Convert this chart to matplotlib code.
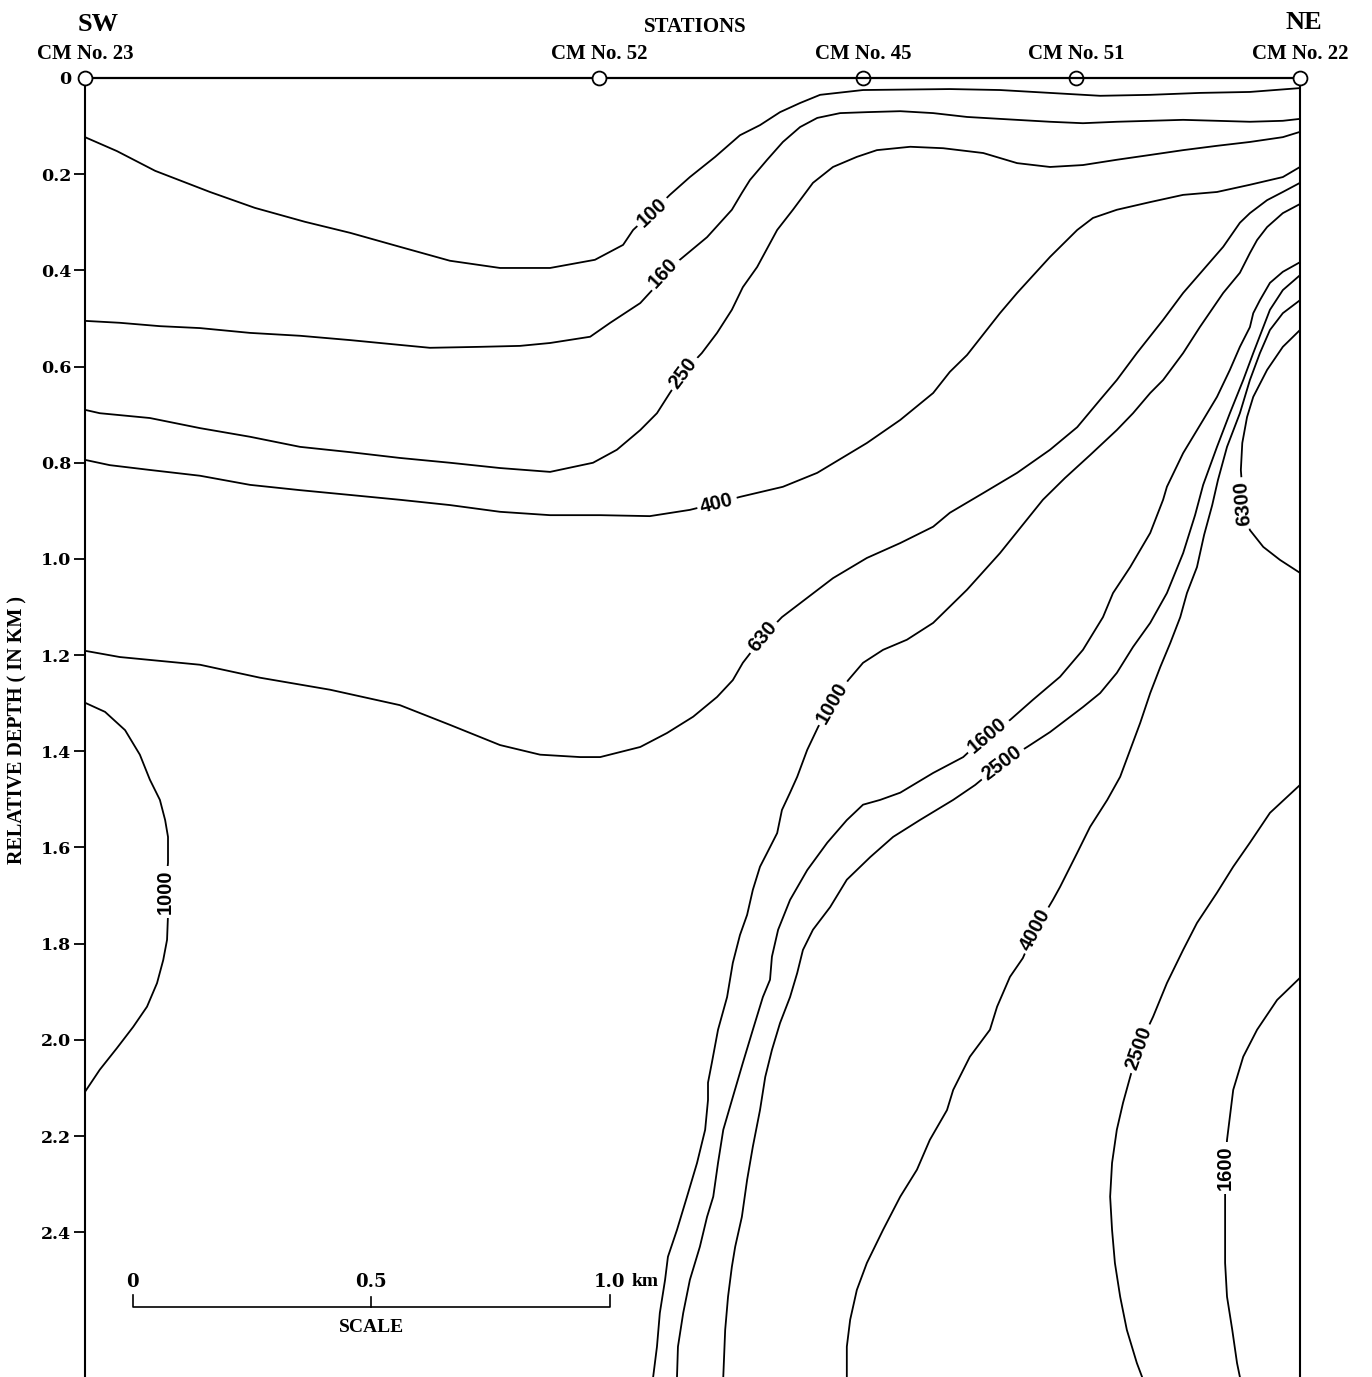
import matplotlib.pyplot as plt

# isolines: distance along section [km], relative depth [km]
x_100 = [0.000, 0.067, 0.147, 0.262, 0.356, 0.461, 0.556, 0.660, 0.765, 0.870, 0.975, 1.069, 1.128, 1.149,
         1.189, 1.226, 1.268, 1.321, 1.373, 1.415, 1.457, 1.499, 1.541, 1.631, 1.813, 1.918, 2.023, 2.128,
         2.233, 2.337, 2.442, 2.547]
d_100 = [0.123, 0.152, 0.193, 0.237, 0.270, 0.299, 0.322, 0.351, 0.380, 0.395, 0.395, 0.378, 0.347, 0.316,
         0.279, 0.243, 0.206, 0.164, 0.119, 0.098, 0.071, 0.052, 0.035, 0.025, 0.023, 0.025, 0.031, 0.037,
         0.035, 0.031, 0.029, 0.021]

x_160 = [0.000, 0.073, 0.157, 0.241, 0.346, 0.451, 0.556, 0.660, 0.723, 0.828, 0.912, 0.975, 1.059, 1.101,
         1.164, 1.189, 1.212, 1.247, 1.304, 1.356, 1.377, 1.394, 1.430, 1.463, 1.499, 1.535, 1.583, 1.639,
         1.709, 1.778, 1.849, 1.918, 2.023, 2.092, 2.163, 2.233, 2.302, 2.373, 2.442, 2.511, 2.547]
d_160 = [0.505, 0.509, 0.516, 0.520, 0.530, 0.536, 0.545, 0.555, 0.561, 0.559, 0.557, 0.551, 0.538, 0.509,
         0.468, 0.441, 0.405, 0.378, 0.331, 0.274, 0.239, 0.212, 0.170, 0.133, 0.102, 0.083, 0.073, 0.071,
         0.069, 0.073, 0.081, 0.085, 0.091, 0.094, 0.091, 0.089, 0.087, 0.089, 0.091, 0.089, 0.085]

x_250 = [0.000, 0.031, 0.136, 0.241, 0.346, 0.451, 0.556, 0.660, 0.765, 0.870, 0.975, 1.065, 1.115, 1.164,
         1.199, 1.226, 1.254, 1.293, 1.325, 1.356, 1.379, 1.409, 1.451, 1.484, 1.526, 1.568, 1.618, 1.660,
         1.730, 1.799, 1.883, 1.954, 2.023, 2.092, 2.163, 2.233, 2.302, 2.373, 2.442, 2.511, 2.547]
d_250 = [0.690, 0.697, 0.707, 0.728, 0.746, 0.767, 0.778, 0.790, 0.800, 0.811, 0.819, 0.800, 0.773, 0.732,
         0.697, 0.655, 0.613, 0.572, 0.530, 0.482, 0.435, 0.393, 0.316, 0.274, 0.218, 0.185, 0.164, 0.150,
         0.143, 0.146, 0.156, 0.177, 0.185, 0.181, 0.170, 0.160, 0.150, 0.141, 0.133, 0.123, 0.112]

x_400 = [0.000, 0.052, 0.136, 0.241, 0.346, 0.451, 0.556, 0.660, 0.765, 0.870, 0.975, 1.080, 1.184, 1.268,
         1.325, 1.373, 1.463, 1.535, 1.639, 1.709, 1.778, 1.813, 1.849, 1.918, 1.954, 2.023, 2.080, 2.113,
         2.163, 2.233, 2.302, 2.373, 2.442, 2.511, 2.547]
d_400 = [0.794, 0.805, 0.815, 0.827, 0.846, 0.857, 0.867, 0.877, 0.888, 0.902, 0.909, 0.909, 0.911, 0.898,
         0.884, 0.871, 0.850, 0.821, 0.759, 0.711, 0.655, 0.611, 0.576, 0.489, 0.447, 0.372, 0.316, 0.291,
         0.274, 0.258, 0.243, 0.237, 0.222, 0.206, 0.185]

x_630 = [0.000, 0.073, 0.241, 0.367, 0.514, 0.660, 0.765, 0.870, 0.954, 1.038, 1.080, 1.164, 1.220, 1.275,
         1.325, 1.358, 1.379, 1.421, 1.461, 1.568, 1.639, 1.709, 1.778, 1.813, 1.883, 1.954, 2.023, 2.080,
         2.128, 2.163, 2.205, 2.260, 2.302, 2.344, 2.386, 2.421, 2.442, 2.478, 2.511, 2.547]
d_630 = [1.191, 1.204, 1.220, 1.247, 1.272, 1.304, 1.345, 1.387, 1.407, 1.412, 1.412, 1.391, 1.362, 1.328,
         1.287, 1.252, 1.216, 1.162, 1.121, 1.040, 0.998, 0.967, 0.933, 0.904, 0.863, 0.821, 0.773, 0.726,
         0.669, 0.628, 0.572, 0.503, 0.447, 0.399, 0.351, 0.301, 0.281, 0.254, 0.237, 0.218]

x_1000 = [1.191, 1.199, 1.205, 1.216, 1.222, 1.241, 1.262, 1.283, 1.300, 1.306, 1.306, 1.314, 1.327, 1.346,
          1.358, 1.373, 1.388, 1.400, 1.415, 1.430, 1.451, 1.461, 1.478, 1.493, 1.514, 1.537, 1.566, 1.600,
          1.631, 1.673, 1.723, 1.778, 1.849, 1.918, 2.008, 2.054, 2.107, 2.163, 2.197, 2.233, 2.260, 2.302,
          2.337, 2.386, 2.421, 2.442, 2.457, 2.478, 2.511, 2.547]
d_1000 = [2.701, 2.638, 2.568, 2.499, 2.451, 2.395, 2.326, 2.256, 2.187, 2.125, 2.089, 2.048, 1.979, 1.911,
          1.840, 1.782, 1.740, 1.688, 1.640, 1.611, 1.570, 1.522, 1.486, 1.453, 1.397, 1.349, 1.299, 1.252,
          1.216, 1.189, 1.168, 1.133, 1.064, 0.988, 0.877, 0.832, 0.784, 0.732, 0.697, 0.655, 0.628, 0.572,
          0.518, 0.447, 0.405, 0.364, 0.337, 0.310, 0.281, 0.262]

x_1600 = [1.241, 1.243, 1.254, 1.268, 1.289, 1.304, 1.317, 1.327, 1.338, 1.358, 1.379, 1.400, 1.421, 1.436,
          1.440, 1.453, 1.478, 1.514, 1.556, 1.597, 1.631, 1.667, 1.709, 1.778, 1.841, 1.891, 1.939, 1.987,
          2.044, 2.092, 2.134, 2.155, 2.191, 2.233, 2.260, 2.268, 2.302, 2.344, 2.373, 2.400, 2.421, 2.442,
          2.449, 2.463, 2.484, 2.511, 2.547]
d_1600 = [2.701, 2.638, 2.568, 2.499, 2.430, 2.368, 2.326, 2.256, 2.187, 2.119, 2.048, 1.979, 1.911, 1.875,
          1.827, 1.771, 1.709, 1.647, 1.590, 1.543, 1.511, 1.501, 1.486, 1.445, 1.412, 1.366, 1.335, 1.293,
          1.245, 1.189, 1.121, 1.071, 1.017, 0.946, 0.877, 0.850, 0.780, 0.711, 0.663, 0.607, 0.559, 0.518,
          0.489, 0.462, 0.426, 0.403, 0.383]

x_2500 = [1.338, 1.342, 1.348, 1.356, 1.363, 1.377, 1.388, 1.400, 1.415, 1.426, 1.440, 1.457, 1.478, 1.493,
          1.505, 1.526, 1.562, 1.597, 1.646, 1.694, 1.750, 1.820, 1.866, 1.922, 1.975, 2.023, 2.092, 2.128,
          2.163, 2.197, 2.233, 2.268, 2.302, 2.327, 2.344, 2.373, 2.400, 2.428, 2.449, 2.470, 2.484, 2.511,
          2.547]
d_2500 = [2.701, 2.603, 2.534, 2.472, 2.430, 2.368, 2.291, 2.222, 2.146, 2.077, 2.021, 1.965, 1.911, 1.861,
          1.813, 1.771, 1.724, 1.667, 1.620, 1.578, 1.543, 1.501, 1.470, 1.424, 1.391, 1.360, 1.308, 1.279,
          1.237, 1.183, 1.133, 1.071, 0.988, 0.909, 0.846, 0.767, 0.697, 0.628, 0.572, 0.518, 0.482, 0.441,
          0.410]

x_4000 = [1.597, 1.597, 1.604, 1.618, 1.639, 1.673, 1.709, 1.744, 1.771, 1.807, 1.820, 1.855, 1.897, 1.912,
          1.939, 1.966, 1.992, 2.029, 2.044, 2.080, 2.107, 2.143, 2.170, 2.191, 2.212, 2.233, 2.254, 2.275,
          2.296, 2.310, 2.331, 2.346, 2.363, 2.375, 2.394, 2.421, 2.442, 2.463, 2.484, 2.511, 2.547]
d_4000 = [2.701, 2.638, 2.582, 2.520, 2.464, 2.395, 2.326, 2.270, 2.208, 2.146, 2.104, 2.035, 1.979, 1.931,
          1.869, 1.830, 1.771, 1.709, 1.682, 1.611, 1.557, 1.501, 1.453, 1.397, 1.341, 1.279, 1.225, 1.175,
          1.121, 1.071, 1.017, 0.950, 0.888, 0.836, 0.767, 0.697, 0.628, 0.572, 0.524, 0.489, 0.462]

x_6300 = [2.547, 2.511, 2.478, 2.449, 2.436, 2.426, 2.423, 2.428, 2.442, 2.470, 2.505, 2.547]
d_6300 = [0.524, 0.559, 0.607, 0.663, 0.705, 0.759, 0.815, 0.884, 0.940, 0.975, 1.002, 1.029]

# closed 1000 cell at SW station
x_1000_sw = [0.000, 0.042, 0.084, 0.115, 0.136, 0.157, 0.168, 0.174, 0.174, 0.168, 0.174, 0.172, 0.164,
             0.151, 0.130, 0.101, 0.067, 0.031, 0.000]
d_1000_sw = [1.299, 1.318, 1.356, 1.407, 1.459, 1.501, 1.543, 1.578, 1.632, 1.692, 1.740, 1.792, 1.834,
             1.882, 1.931, 1.973, 2.017, 2.062, 2.108]

# lower cells at NE station
x_2500_ne = [2.547, 2.484, 2.442, 2.407, 2.373, 2.331, 2.302, 2.268, 2.239, 2.208, 2.191, 2.176, 2.163,
             2.153, 2.149, 2.153, 2.159, 2.170, 2.184, 2.205, 2.216]
d_2500_ne = [1.470, 1.528, 1.590, 1.640, 1.694, 1.757, 1.813, 1.882, 1.952, 2.017, 2.077, 2.131, 2.187,
             2.256, 2.326, 2.395, 2.464, 2.534, 2.603, 2.672, 2.701]

x_1600_ne = [2.547, 2.499, 2.457, 2.428, 2.407, 2.400, 2.394, 2.390, 2.390, 2.390, 2.390, 2.394, 2.405,
             2.415, 2.421]
d_1600_ne = [1.871, 1.917, 1.979, 2.035, 2.104, 2.160, 2.208, 2.266, 2.318, 2.395, 2.464, 2.534, 2.603,
             2.672, 2.701]

isolines = [(x_100, d_100), (x_160, d_160), (x_250, d_250), (x_400, d_400), (x_630, d_630),
            (x_1000, d_1000), (x_1600, d_1600), (x_2500, d_2500), (x_4000, d_4000), (x_6300, d_6300),
            (x_1000_sw, d_1000_sw), (x_2500_ne, d_2500_ne), (x_1600_ne, d_1600_ne)]

# label text, position (km, km), rotation on screen
iso_labels = [("100", 1.189, 0.279, 43), ("160", 1.212, 0.405, 47), ("250", 1.254, 0.613, 53),
              ("400", 1.325, 0.884, 14), ("630", 1.421, 1.162, 50), ("1000", 1.566, 1.299, 60),
              ("1600", 1.891, 1.366, 40), ("2500", 1.922, 1.424, 37), ("4000", 1.992, 1.771, 62),
              ("6300", 2.428, 0.884, 95), ("1000", 0.168, 1.692, 90), ("2500", 2.208, 2.017, 70),
              ("1600", 2.390, 2.266, 90)]

stations = ["CM No. 23", "CM No. 52", "CM No. 45", "CM No. 51", "CM No. 22"]
station_x = [0.0, 1.078, 1.631, 2.078, 2.547]
station_open = [False, False, True, True, False]

depth_ticks = [0, 0.2, 0.4, 0.6, 0.8, 1.0, 1.2, 1.4, 1.6, 1.8, 2.0, 2.2, 2.4]
depth_labels = ["0", "0.2", "0.4", "0.6", "0.8", "1.0", "1.2", "1.4", "1.6", "1.8", "2.0", "2.2", "2.4"]

serif = dict(family="Liberation Serif", weight="bold")
wide = dict(family="DejaVu Serif", weight="bold")

fig = plt.figure(figsize=(13.72, 13.77), dpi=100)
ax = fig.add_axes([85 / 1372, 0, 1215 / 1372, 1299 / 1377])
ax.set_xlim(0, 2.547)
ax.set_ylim(2.701, 0)

for s in ["top", "bottom"]:
    ax.spines[s].set_visible(False)
for s in ["left", "right"]:
    ax.spines[s].set_linewidth(1.5)

ax.set_xticks([])
ax.set_yticks(depth_ticks)
ax.set_yticklabels(depth_labels, fontsize=12.5, **wide)
ax.tick_params(axis="y", direction="out", length=8, width=1.3, pad=2)
ax.yaxis.get_major_ticks()[0].tick1line.set_visible(False)

for xs, ds in isolines:
    ax.plot(xs, ds, color="black", lw=1.3, solid_joinstyle="round", zorder=2)

for txt, lx, ld, rot in iso_labels:
    ax.text(lx, ld, txt, ha="center", va="center", rotation=rot, rotation_mode="anchor",
            fontsize=14.5, family="Liberation Sans", weight="bold", zorder=3,
            bbox=dict(boxstyle="square,pad=0.18", fc="white", ec="none"))

# station line on top
ax.plot(station_x, [0] * len(station_x), color="black", lw=1.6, clip_on=False, zorder=4)
for sx, name, op in zip(station_x, stations, station_open):
    ax.plot([sx], [0], "o", ms=10, mec="black", mew=1.3, mfc="none" if op else "white",
            clip_on=False, zorder=5)
    ax.text(sx, -0.05, name, ha="center", va="center", fontsize=15, **serif)

ax.text(0.027, -0.112, "SW", ha="center", va="center", fontsize=19, **serif)
ax.text(2.556, -0.116, "NE", ha="center", va="center", fontsize=19, **serif)
ax.text(1.279, -0.106, "STATIONS", ha="center", va="center", fontsize=15, **serif)

fig.text(17 / 1372, 1 - 730 / 1377, "RELATIVE DEPTH ( IN KM )", rotation=90,
         ha="center", va="center", fontsize=14.5, **serif)

# scale bar
ax.plot([0.1, 0.1, 1.1, 1.1], [2.530, 2.555, 2.555, 2.530], color="black", lw=1.2)
ax.plot([0.6, 0.6], [2.555, 2.535], color="black", lw=1.2)
ax.text(0.1, 2.503, "0", ha="center", va="center", fontsize=13, **wide)
ax.text(0.6, 2.503, "0.5", ha="center", va="center", fontsize=13, **wide)
ax.text(1.1, 2.503, "1.0", ha="center", va="center", fontsize=13, **wide)
ax.text(1.145, 2.503, "km", ha="left", va="center", fontsize=14, **serif)
ax.text(0.6, 2.599, "SCALE", ha="center", va="center", fontsize=14, **serif)

fig.savefig("out.png", dpi=100)
